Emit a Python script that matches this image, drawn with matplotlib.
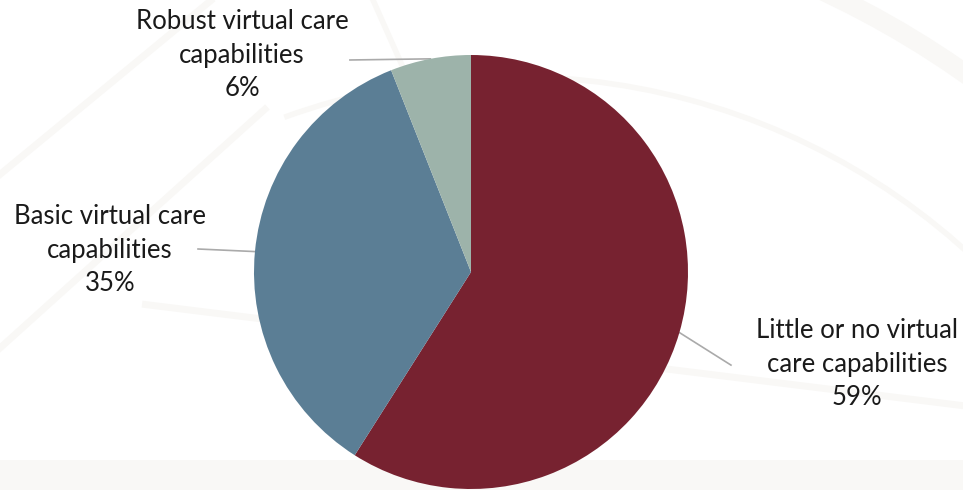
import numpy as np
import matplotlib.pyplot as plt
from matplotlib.patches import Arc, Rectangle

plt.rcParams['font.family'] = ['Lato', 'DejaVu Sans']

# survey shares, clockwise from 12 o'clock
labels = ['Little or no virtual\ncare capabilities',
          'Basic virtual care\ncapabilities',
          'Robust virtual care\ncapabilities']
shares = [59, 35, 6]
colors = ['#772230', '#5b7e95', '#9db3aa']

# label centres and leader line ends (pie radius = 1)
text_pos = [(1.779, -0.424), (-1.664, 0.101), (-1.055, 1.0)]
line_end = [(1.198, -0.429), (-1.258, 0.106), (-0.558, 0.977)]

W, H, R = 963, 490, 217.0
cx, cy = 471, 272

fig = plt.figure(figsize=(W / 100, H / 100), dpi=100)
fig.patch.set_facecolor('white')
ax = fig.add_axes([0, 0, 1, 1])

wedges, _ = ax.pie(shares, colors=colors, startangle=90, counterclock=False,
                   radius=1, wedgeprops=dict(linewidth=0))
for w in wedges:
    w.set_zorder(2)

ax.set_xlim(-cx / R, (W - cx) / R)
ax.set_ylim(-(H - cy) / R, cy / R)
ax.set_aspect('equal')
ax.axis('off')

# faint decorative background
bg = '#f9f8f6'
ax.add_patch(Rectangle((-cx / R, -(H - cy) / R), W / R, 30 / R,
                       color=bg, zorder=0, lw=0))
ax.add_patch(Arc((0.2, -2.2), 6.2, 6.2, theta1=40, theta2=110,
                 color=bg, lw=4, zorder=0))
ax.add_patch(Arc((-0.2, -2.6), 8.6, 8.6, theta1=45, theta2=100,
                 color=bg, lw=14, zorder=0))
ax.plot([-2.17, -1.2], [0.45, 1.25], color=bg, lw=5, zorder=0)
ax.plot([-2.17, -0.95], [-0.35, 0.75], color=bg, lw=5, zorder=0)
ax.plot([-1.5, 2.3], [-0.15, -0.62], color=bg, lw=5, zorder=0)
ax.plot([-0.45, 0.15], [1.25, -0.1], color=bg, lw=4, zorder=0)

for w, lab, val, tp, le in zip(wedges, labels, shares, text_pos, line_end):
    mid = np.deg2rad((w.theta1 + w.theta2) / 2)
    ex, ey = np.cos(mid), np.sin(mid)
    ax.plot([ex, le[0]], [ey, le[1]], color='#aaaaaa', lw=1.2, zorder=1)
    ax.text(tp[0], tp[1], f'{lab}\n{val}%', ha='center', va='center',
            fontsize=18.5, color='#1a1a1a', linespacing=1.42, zorder=3)

fig.savefig('out.png', dpi=100)
